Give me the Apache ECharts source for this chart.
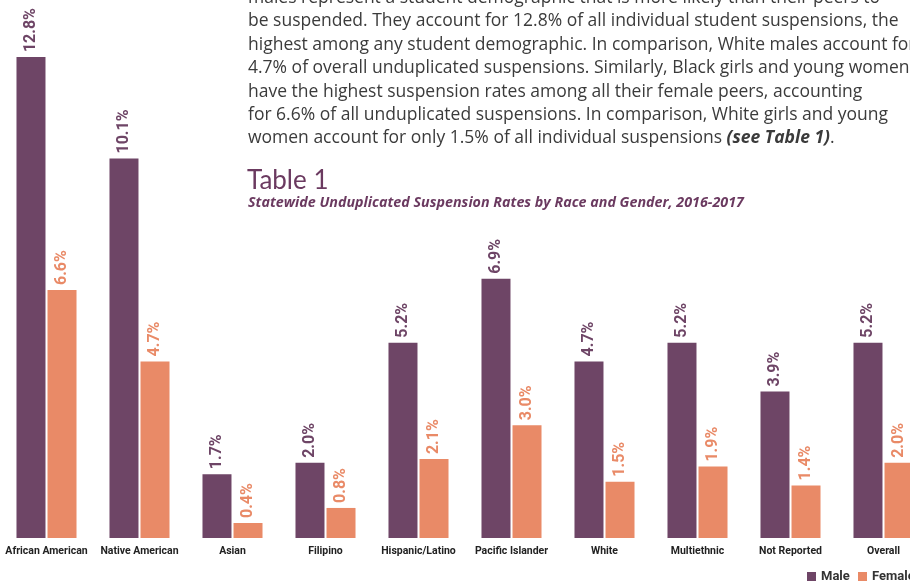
<!DOCTYPE html>
<html>
<head>
<meta charset="utf-8">
<script src="https://cdn.jsdelivr.net/npm/echarts@6/dist/echarts.min.js"></script>
<style>
  html, body { margin: 0; padding: 0; background: #fff; }
  #main { width: 910px; height: 584px; }
</style>
</head>
<body>
<div id="main"></div>
<script>
// 数据
var categories = ['African American', 'Native American', 'Asian', 'Filipino', 'Hispanic/Latino',
  'Pacific Islander', 'White', 'Multiethnic', 'Not Reported', 'Overall'];
var maleValues = [12.8, 10.1, 1.7, 2.0, 5.2, 6.9, 4.7, 5.2, 3.9, 5.2];
var femaleValues = [6.6, 4.7, 0.4, 0.8, 2.1, 3.0, 1.5, 1.9, 1.4, 2.0];
var seriesNames = ['Male', 'Female'];

var paragraph = [
  'males represent a student demographic that is more likely than their peers to',
  'be suspended. They account for 12.8% of all individual student suspensions, the',
  'highest among any student demographic. In comparison, White males account for',
  '4.7% of overall unduplicated suspensions. Similarly, Black girls and young women',
  'have the highest suspension rates among all their female peers, accounting',
  'for 6.6% of all unduplicated suspensions. In comparison, White girls and young',
  'women account for only 1.5% of all individual suspensions {b|(see Table 1)}.'
];

var MALE = '#6e4566';
var FEMALE = '#e98a67';
var LABEL_FONT = "Roboto, sans-serif";
var BODY = "'Open Sans', sans-serif";

var myChart = echarts.init(document.getElementById('main'));

// 上方的说明文字
var graphics = paragraph.map(function (line, i) {
  return {
    type: 'text',
    x: 248,
    y: -2 + i * 23.4,
    style: {
      text: line,
      font: '17.5px ' + BODY,
      fill: '#3b3b3b',
      verticalAlign: 'middle',
      rich: { b: { font: 'italic bold 17.5px ' + BODY, fill: '#3b3b3b' } }
    }
  };
});
graphics.push({
  type: 'text', x: 247, y: 181,
  style: { text: 'Table 1', font: '26px Lato, sans-serif', fill: '#6b3a60', verticalAlign: 'middle' }
});
graphics.push({
  type: 'text', x: 248, y: 203,
  style: {
    text: 'Statewide Unduplicated Suspension Rates by Race and Gender, 2016-2017',
    font: 'italic bold 14.3px ' + BODY, fill: '#6b3a60', verticalAlign: 'middle'
  }
});

function barLabel(color) {
  return {
    show: true,
    position: 'top',
    rotate: 90,
    align: 'left',
    verticalAlign: 'middle',
    distance: 5,
    color: color,
    fontFamily: LABEL_FONT,
    fontWeight: 'bold',
    fontSize: 16,
    formatter: function (p) { return p.value.toFixed(1) + '%'; }
  };
}

var legendText = { fontFamily: LABEL_FONT, fontWeight: 'bold', fontSize: 13, color: '#333' };

var option = {
  animation: false,
  graphic: graphics,
  grid: { left: 0, top: 12, width: 930, bottom: 46, outerBoundsMode: 'none' },
  legend: [
    { data: [seriesNames[0]], left: 807, top: 570, icon: 'rect', itemWidth: 9, itemHeight: 9,
      itemGap: 5, padding: 0, textStyle: legendText },
    { data: [seriesNames[1]], left: 858, top: 570, icon: 'rect', itemWidth: 9, itemHeight: 9,
      itemGap: 5, padding: 0, textStyle: legendText }
  ],
  xAxis: {
    type: 'category',
    data: categories,
    axisLine: { show: false },
    axisTick: { show: false },
    axisLabel: {
      interval: 0,
      margin: 8,
      color: '#222',
      fontFamily: LABEL_FONT,
      fontWeight: 'bold',
      fontSize: 10.5
    }
  },
  yAxis: {
    type: 'value',
    min: 0,
    max: 14,
    show: false,
    splitLine: { show: false }
  },
  series: [
    {
      name: seriesNames[0],
      type: 'bar',
      data: maleValues,
      barWidth: 29,
      barGap: '7%',
      itemStyle: { color: MALE },
      label: barLabel(MALE)
    },
    {
      name: seriesNames[1],
      type: 'bar',
      data: femaleValues,
      barWidth: 29,
      itemStyle: { color: FEMALE },
      label: barLabel(FEMALE)
    }
  ]
};
myChart.setOption(option);
</script>
</body>
</html>
